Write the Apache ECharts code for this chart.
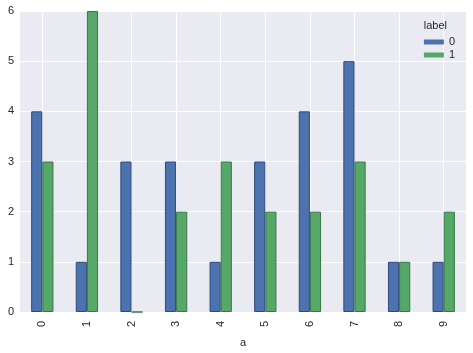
<!DOCTYPE html>
<html>
<head>
<meta charset="utf-8">
<script src="https://cdn.jsdelivr.net/npm/echarts@6/dist/echarts.min.js"></script>
<style>
html, body { margin: 0; padding: 0; background: #fff; }
#chart { width: 473px; height: 353px; }
</style>
</head>
<body>
<div id="chart"></div>
<script>
var categories = ['0', '1', '2', '3', '4', '5', '6', '7', '8', '9']
var label0 = [4, 1, 3, 3, 1, 3, 4, 5, 1, 1]
var label1 = [3, 6, 0, 2, 3, 2, 2, 3, 1, 2]
var yTicks = [0, 1, 2, 3, 4, 5, 6]

var font = 'Liberation Sans, Arial, sans-serif'
var chart = echarts.init(document.getElementById('chart'))

chart.setOption({
    animation: false,
    backgroundColor: '#ffffff',
    textStyle: { fontFamily: font },
    title: {
        text: 'label',
        right: 21,
        top: 15,
        textStyle: { fontSize: 11, fontWeight: 'normal', color: '#262626', fontFamily: font }
    },
    legend: {
        orient: 'vertical',
        right: 13,
        top: 31,
        itemWidth: 20,
        itemHeight: 5,
        itemGap: 1,
        icon: 'rect',
        textStyle: { fontSize: 11, lineHeight: 12, color: '#262626', fontFamily: font },
        itemStyle: { borderWidth: 0 },
        data: ['0', '1']
    },
    grid: {
        left: 20,
        right: 7,
        top: 11,
        bottom: 36,
        show: true,
        backgroundColor: '#EAEAF2',
        borderWidth: 0
    },
    xAxis: {
        type: 'category',
        data: categories,
        name: 'a',
        nameLocation: 'middle',
        nameGap: 25,
        nameTextStyle: { fontSize: 11, color: '#262626' },
        axisLine: { show: false },
        axisTick: { show: false },
        axisLabel: { rotate: 90, fontSize: 11, color: '#262626', margin: 9 },
        splitLine: { show: true, alignWithLabel: true, lineStyle: { color: '#ffffff', width: 1 } }
    },
    yAxis: {
        type: 'value',
        min: yTicks[0],
        max: yTicks[yTicks.length - 1],
        interval: 1,
        axisLine: { show: false },
        axisTick: { show: false },
        axisLabel: { fontSize: 11, color: '#262626', margin: 6 },
        splitLine: { show: true, lineStyle: { color: '#ffffff', width: 1 } }
    },
    series: [
        {
            name: '0',
            type: 'bar',
            data: label0,
            barGap: '0%',
            barCategoryGap: '50%',
            itemStyle: { color: '#4C72B0', borderColor: '#2f4a78', borderWidth: 1 }
        },
        {
            name: '1',
            type: 'bar',
            data: label1,
            barGap: '0%',
            barCategoryGap: '50%',
            itemStyle: { color: '#55A868', borderColor: '#3a7548', borderWidth: 1 }
        }
    ]
})
</script>
</body>
</html>
